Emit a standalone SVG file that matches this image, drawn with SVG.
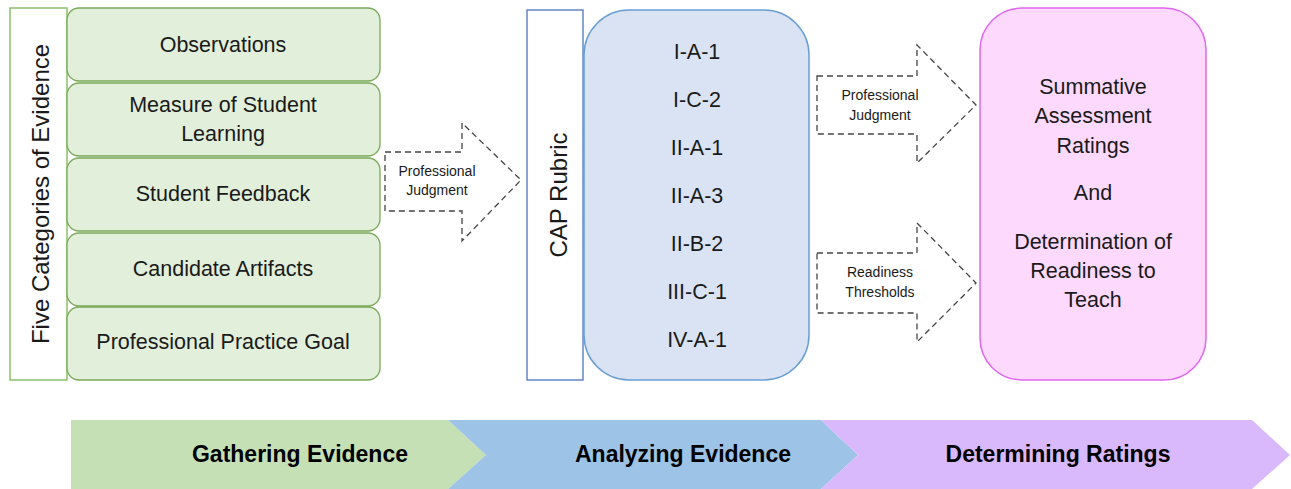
<svg xmlns="http://www.w3.org/2000/svg" width="1291" height="489" viewBox="0 0 1291 489">
<style>
text{font-family:"Liberation Sans",Arial,sans-serif;fill:#1a1a1a;text-anchor:middle}
.ev{fill:#e2efda;stroke:#7aa95a;stroke-width:1.3}
.t{font-size:21.5px}
.s{font-size:14px}
.b{font-size:23px;font-weight:bold;fill:#000}
.dash{fill:#fff;stroke:#444;stroke-width:1.3;stroke-dasharray:6 4}
</style>
<rect width="1291" height="489" fill="#fff"/>
<g id="five-categories">
<rect x="10" y="8" width="57" height="372" fill="#fff" stroke="#8cc06a" stroke-width="1.5"/>
<text transform="translate(49,194) rotate(-90)" style="font-size:24px">Five Categories of Evidence</text>
</g>
<g id="observations"><rect class="ev" x="67" y="8" width="313" height="73" rx="12"/><text class="t" x="223" y="52">Observations</text></g>
<g id="measure"><rect class="ev" x="67" y="83" width="313" height="73" rx="12"/><text class="t" x="223" y="112">Measure of Student</text><text class="t" x="223" y="141">Learning</text></g>
<g id="feedback"><rect class="ev" x="67" y="158" width="313" height="73" rx="12"/><text class="t" x="223" y="201">Student Feedback</text></g>
<g id="artifacts"><rect class="ev" x="67" y="233" width="313" height="73" rx="12"/><text class="t" x="223" y="276">Candidate Artifacts</text></g>
<g id="goal"><rect class="ev" x="67" y="307" width="313" height="73" rx="12"/><text class="t" x="223" y="349">Professional Practice Goal</text></g>

<g id="connectors">
<g id="arrow-judgment-1"><path class="dash" d="M385,152 H462 V123 L521,180 L462,241 V211 H385 Z"/><text class="s" x="437" y="176">Professional</text><text class="s" x="437" y="195">Judgment</text></g>
<g id="arrow-judgment-2"><path class="dash" d="M817,76 H917 V45 L976,105 L917,163 V134 H817 Z"/><text class="s" x="880" y="100">Professional</text><text class="s" x="880" y="120">Judgment</text></g>
<g id="arrow-thresholds"><path class="dash" d="M817,253 H917 V223 L976,283 L917,342 V313 H817 Z"/><text class="s" x="880" y="277">Readiness</text><text class="s" x="880" y="297">Thresholds</text></g>
</g>

<g id="cap-rubric">
<rect x="527" y="10" width="56" height="370" fill="#fff" stroke="#4f74b8" stroke-width="1.3"/>
<text transform="translate(567,195) rotate(-90)" style="font-size:24px">CAP Rubric</text>
</g>
<g id="rubric-items">
<rect x="584" y="10" width="225" height="370" rx="45" fill="#dae3f3" stroke="#6a9fd4" stroke-width="1.5"/>
<text class="t" x="697" y="59">I-A-1</text>
<text class="t" x="697" y="107">I-C-2</text>
<text class="t" x="697" y="155">II-A-1</text>
<text class="t" x="697" y="203">II-A-3</text>
<text class="t" x="697" y="251">II-B-2</text>
<text class="t" x="697" y="299">III-C-1</text>
<text class="t" x="697" y="347">IV-A-1</text>
</g>
<g id="ratings">
<rect x="980" y="8" width="226" height="372" rx="42" fill="#fdd9fd" stroke="#e065f0" stroke-width="1.5"/>
<text class="t" x="1093" y="94">Summative</text>
<text class="t" x="1093" y="123">Assessment</text>
<text class="t" x="1093" y="153">Ratings</text>
<text class="t" x="1093" y="200">And</text>
<text class="t" x="1093" y="249">Determination of</text>
<text class="t" x="1093" y="278">Readiness to</text>
<text class="t" x="1093" y="307">Teach</text>
</g>
<g id="stage-gathering"><path d="M71,420 H448 L486,455 L448,489 H71 Z" fill="#c5e0b4"/><text class="b" x="300" y="462">Gathering Evidence</text></g>
<g id="stage-analyzing"><path d="M448,420 H821 L858,455 L821,489 H448 L486,455 Z" fill="#9dc3e6"/><text class="b" x="683" y="462">Analyzing Evidence</text></g>
<g id="stage-determining"><path d="M821,420 H1252 L1290,455 L1252,489 H821 L858,455 Z" fill="#dab8fc"/><text class="b" x="1058" y="462">Determining Ratings</text></g>
</svg>
